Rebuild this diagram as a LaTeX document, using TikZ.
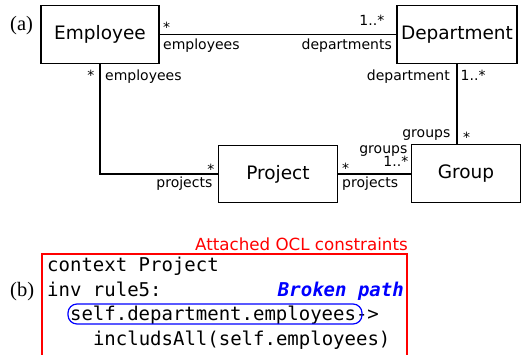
\documentclass[tikz,border=0pt]{standalone}
\usepackage{fontspec}
\setmainfont{Liberation Serif}
\setsansfont{DejaVu Sans}
\setmonofont{DejaVu Sans Mono}
\begin{document}
\begin{tikzpicture}[x=1pt,y=-1pt,
  cls/.style={draw, line width=1.2pt, rectangle, inner sep=0pt,
    font=\sffamily\fontsize{18.5}{22}\selectfont},
  assoc/.style={line width=1.2pt},
  lbl/.style={inner sep=0pt, font=\sffamily\fontsize{14}{16}\selectfont},
  lw/.style={lbl, anchor=base west},
  le/.style={lbl, anchor=base east},
  code/.style={inner sep=0pt, anchor=base west,
    font=\ttfamily\fontsize{19}{23}\selectfont},
  tag/.style={inner sep=0pt, anchor=base west,
    font=\rmfamily\fontsize{20.5}{24}\selectfont}]
\useasboundingbox (0,0) rectangle (522,354);
\clip (0,0) rectangle (522,354);

% (a) class diagram
\node[tag] (tagA) at (10,30) {(a)};
\node[cls, minimum width=118pt, minimum height=58pt] (emp) at (100,34.5) {Employee};
\node[cls, minimum width=120pt, minimum height=58pt] (dep) at (457,34.5) {Department};
\node[cls, minimum width=119pt, minimum height=57pt] (proj) at (278,174) {Project};
\node[cls, minimum width=109pt, minimum height=58pt] (grp) at (466,173.5) {Group};

\draw[assoc] (emp.east) -- (dep.west);
\draw[assoc] (emp.south) |- (proj.west);
\draw[assoc] (dep.south) -- (dep.south |- grp.north);
\draw[assoc] (proj.east) -- (proj.east -| grp.west);

% association ends
\node[lw] (m1) at (163,32.6) {*};
\node[lw] (r1) at (163,49.5) {employees};
\node[le] (m2) at (384.5,25) {1..*};
\node[le] (r2) at (392,49.5) {departments};
\node[le] (m3) at (94.5,80.5) {*};
\node[lw] (r3) at (105,80) {employees};
\node[le] (r4) at (450,80) {department};
\node[lw] (m4) at (460.5,80) {1..*};
\node[le] (r5) at (450.5,137.5) {groups};
\node[lw] (m5) at (463,142) {*};
\node[le] (r6) at (407.5,153.5) {groups};
\node[le] (m6) at (408.5,166) {1..*};
\node[lw] (m7) at (342,173.8) {*};
\node[lw] (r7) at (342,187) {projects};
\node[le] (m8) at (214.5,174.3) {*};
\node[le] (r8) at (212.5,187.3) {projects};

% (b) OCL constraint
\node[tag] (tagB) at (10,296.5) {(b)};
\node[inner sep=0pt, anchor=base east, text=red,
  font=\sffamily\fontsize{16.7}{20}\selectfont] (title) at (408,250.5) {Attached OCL constraints};
\draw[red, line width=1.2pt] (42,254) rectangle (407,372);
\node[code] (l1) at (47,271.5) {context Project};
\node[code] (l2) at (47,296) {inv rule5:};
\node[code] (l3) at (69.9,320.5) {self.department.employees->};
\node[code] (l4) at (92.8,345) {includsAll(self.employees)};
\node[draw=blue, line width=1.2pt, rounded corners=9pt, inner sep=0pt,
  minimum width=294pt, minimum height=20pt] (brk) at (215,314) {};
\node[inner sep=0pt, anchor=base east, text=blue,
  font=\ttfamily\bfseries\itshape\fontsize{19}{23}\selectfont] (bp) at (404,296) {Broken path};
\end{tikzpicture}
\end{document}
